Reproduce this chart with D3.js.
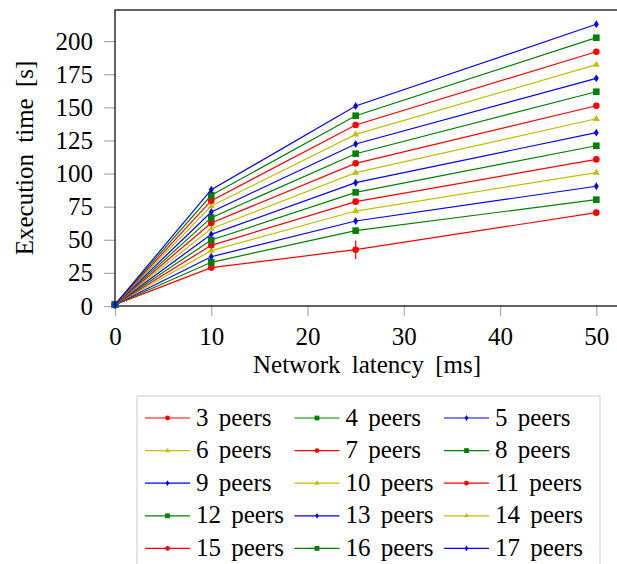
<!DOCTYPE html>
<html>
<head>
<meta charset="utf-8">
<script src="https://cdn.jsdelivr.net/npm/d3@7"></script>
<style>
  body { margin: 0; background: #fff; }
  svg text { font-family: "Liberation Serif", "Times New Roman", serif; fill: #000; }
</style>
</head>
<body>
<svg id="chart" width="617" height="564" font-family="Liberation Serif, serif"></svg>
<script>
// ── Data ─────────────────────────────────────────────
const latencies = [0, 10, 25, 50];
const peers     = [3, 4, 5, 6, 7, 8, 9, 10, 11, 12, 13, 14, 15, 16, 17];
const times = [
  [1, 29.0, 42.5, 70.5],
  [1, 33.0, 56.9, 80.3],
  [1, 37.2, 64.2, 90.4],
  [1, 41.8, 71.7, 100.7],
  [1, 45.8, 78.8, 110.7],
  [1, 49.8, 85.8, 121.0],
  [1, 54.1, 93.1, 130.9],
  [1, 58.4, 100.7, 141.4],
  [1, 62.7, 107.7, 151.2],
  [1, 66.7, 115.0, 161.8],
  [1, 71.0, 122.3, 171.9],
  [1, 75.5, 129.6, 182.2],
  [1, 79.5, 136.7, 192.0],
  [1, 83.6, 143.7, 202.6],
  [1, 87.8, 151.0, 212.7]
];
// error bar half-widths (only 3 peers @ 25 ms is visible)
const errors = [
  [0, 0, 7, 0]
];
const xTicks = [0, 10, 20, 30, 40, 50];
const yTicks = [0, 25, 50, 75, 100, 125, 150, 175, 200];

const colors  = ['#ff0000', '#008000', '#0000ff', '#bfbf00'];
const markers = ['circle', 'square', 'diamond', 'triangle'];

// ── Layout ───────────────────────────────────────────
const svg = d3.select('#chart');
const X0 = 115, Y0 = 306, YTOP = 10;
const xScale = d3.scaleLinear().domain([0, 52.2]).range([X0, 617.5]);
const yScale = d3.scaleLinear().domain([0, 223.5]).range([Y0, YTOP]);
const FS = 25;
const FONT = '"Liberation Serif", "Times New Roman", serif';

// ── Axes ─────────────────────────────────────────────
const xAxis = d3.axisBottom(xScale).tickValues(xTicks).tickSize(10).tickPadding(11);
const yAxis = d3.axisLeft(yScale).tickValues(yTicks).tickSize(11).tickPadding(11);

const gx = svg.append('g').attr('transform', `translate(0,${Y0})`).call(xAxis);
const gy = svg.append('g').attr('transform', `translate(${X0},0)`).call(yAxis);
for (const g of [gx, gy]) {
  g.attr('font-family', null).attr('font-size', null);
  g.select('.domain').remove();
  g.selectAll('.tick line').attr('stroke', '#aaa').attr('stroke-width', 1.2);
  g.selectAll('.tick text')
    .style('font-family', FONT)
    .style('font-size', FS + 'px')
    .attr('fill', '#000');
}

// Frame
svg.append('rect')
  .attr('x', X0).attr('y', YTOP)
  .attr('width', 620 - X0).attr('height', Y0 - YTOP)
  .attr('fill', 'none').attr('stroke', '#222').attr('stroke-width', 1.4);

// Axis labels
svg.append('text')
  .attr('x', 367).attr('y', 373)
  .attr('text-anchor', 'middle')
  .style('font-family', FONT).style('font-size', FS + 'px')
  .attr('word-spacing', 5)
  .text('Network latency [ms]');

svg.append('text')
  .attr('transform', `translate(33,${(Y0 + YTOP) / 2}) rotate(-90)`)
  .attr('text-anchor', 'middle')
  .style('font-family', FONT).style('font-size', FS + 'px')
  .attr('word-spacing', 5)
  .text('Execution time [s]');

// ── Marker helper ────────────────────────────────────
function drawMarker(g, type, x, y, s, color) {
  if (type === 'circle') {
    g.append('circle').attr('cx', x).attr('cy', y).attr('r', s).attr('fill', color);
  } else if (type === 'square') {
    g.append('rect').attr('x', x - s).attr('y', y - s)
      .attr('width', 2 * s).attr('height', 2 * s).attr('fill', color);
  } else if (type === 'diamond') {
    g.append('polygon')
      .attr('points', `${x},${y - s * 1.2} ${x + s * 0.75},${y} ${x},${y + s * 1.2} ${x - s * 0.75},${y}`)
      .attr('fill', color);
  } else {
    g.append('polygon')
      .attr('points', `${x},${y - s * 1.2} ${x + s * 1.05},${y + s * 0.65} ${x - s * 1.05},${y + s * 0.65}`)
      .attr('fill', color);
  }
}

// ── Series ───────────────────────────────────────────
const line = d3.line().x(d => xScale(d[0])).y(d => yScale(d[1]));
const plot = svg.append('g');

peers.forEach((p, i) => {
  const color = colors[i % 4];
  const pts = latencies.map((l, j) => [l, times[i][j]]);
  plot.append('path')
    .attr('d', line(pts))
    .attr('fill', 'none')
    .attr('stroke', color)
    .attr('stroke-width', 1.2);

  if (errors[i]) {
    pts.forEach((d, j) => {
      const e = errors[i][j];
      if (!e) return;
      plot.append('line')
        .attr('x1', xScale(d[0])).attr('x2', xScale(d[0]))
        .attr('y1', yScale(d[1] - e)).attr('y2', yScale(d[1] + e))
        .attr('stroke', color).attr('stroke-width', 1.2);
    });
  }

  pts.forEach(d => drawMarker(plot, markers[i % 4], xScale(d[0]), yScale(d[1]), 3.3, color));
});

// ── Legend ───────────────────────────────────────────
const LX = 137, LY = 396, ROW = 32.6, COL = 149.5;
svg.append('rect')
  .attr('x', LX).attr('y', LY)
  .attr('width', 463).attr('height', 200)
  .attr('fill', '#fff').attr('stroke', '#ccc').attr('stroke-width', 1);

peers.forEach((p, i) => {
  const r = Math.floor(i / 3), c = i % 3;
  const cx = 145 + c * COL, cy = 418 + r * ROW;
  const color = colors[i % 4];
  const g = svg.append('g');
  g.append('line')
    .attr('x1', cx).attr('x2', cx + 45)
    .attr('y1', cy).attr('y2', cy)
    .attr('stroke', color).attr('stroke-width', 1.2);
  drawMarker(g, markers[i % 4], cx + 22.5, cy, 2.4, color);
  g.append('text')
    .attr('x', cx + 51).attr('y', cy + 7.5)
    .style('font-family', FONT).style('font-size', FS + 'px')
    .attr('word-spacing', 4)
    .text(`${p} peers`);
});
</script>
</body>
</html>
